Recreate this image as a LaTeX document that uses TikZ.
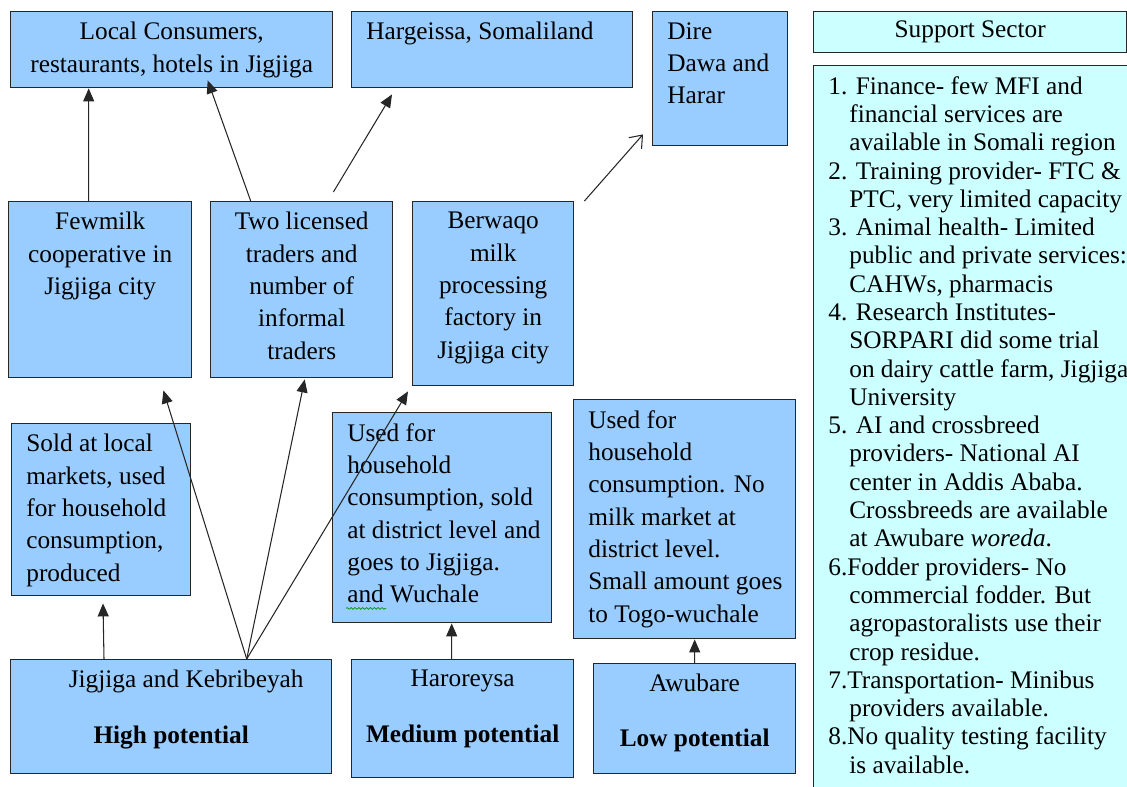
\documentclass[tikz,border=0pt]{standalone}
\usepackage{fontspec}
\setmainfont{Liberation Serif}
\usepackage{xcolor}
\usepackage{tikz}
\usetikzlibrary{positioning,arrows.meta,decorations.pathmorphing}
\definecolor{ink}{HTML}{262626}
\definecolor{skyfill}{HTML}{99CCFF}
\definecolor{aquafill}{HTML}{CCFFFF}
\newcommand{\txtsz}{\fontsize{14.4}{18.4}\selectfont}
\newcommand{\listsz}{\fontsize{14.4}{16.1}\selectfont}
\newcommand{\hang}{\hspace*{0.42cm}}

\begin{document}
\begin{tikzpicture}[
  box/.style={draw=ink, line width=0.8pt, fill=skyfill, anchor=north west, inner sep=0pt},
  sbox/.style={box, fill=aquafill},
  dims/.style 2 args={minimum width=#1cm, minimum height=#2cm},
  ctxt/.style={anchor=north, align=center, inner sep=0pt, yshift=-0.22cm, font=\txtsz},
  ltxt/.style={anchor=north west, align=left, inner sep=0pt, xshift=0.3cm, yshift=-0.22cm, font=\txtsz},
  arr/.style={-{Triangle[length=2.6mm, width=2.2mm]}, line width=0.6pt, ink},
  oarr/.style={-{Straight Barb[length=2.2mm, width=3.4mm]}, line width=0.6pt, ink},
  spell/.style={green!60!black, line width=0.4pt, decorate, decoration={snake, amplitude=0.5pt, segment length=2.2pt}}]
\clip (0,0) rectangle (22.54,-15.72);
% destinations
\node[box, dims={6.44}{1.52}, label={[ctxt]north:{Local Consumers,\\restaurants, hotels in Jigjiga}}] (cons) at (0.20,-0.22) {};
\node[box, dims={5.62}{1.52}, label={[ltxt]north west:{Hargeissa, Somaliland}}] (harg) at (7.02,-0.22) {};
\node[box, dims={2.70}{2.68}, label={[ltxt]north west:{Dire\\Dawa and\\Harar}}] (dire) at (13.04,-0.22) {};
% traders and processors
\node[box, dims={3.66}{3.52}, label={[ctxt]north:{Fewmilk\\cooperative in\\Jigjiga city}}] (fewmilk) at (0.16,-4.02) {};
\node[box, dims={3.64}{3.52}, label={[ctxt]north:{Two licensed\\traders and\\number of\\informal\\traders}}] (two) at (4.20,-4.02) {};
\node[box, dims={3.22}{3.68}, label={[ctxt]north:{Berwaqo\\milk\\processing\\factory in\\Jigjiga city}}] (berwaqo) at (8.24,-4.02) {};
% use of milk
\node[box, dims={3.58}{3.44}, label={[ltxt]north west:{Sold at local\\markets, used\\for household\\consumption,\\produced}}] (sold) at (0.22,-8.46) {};
\node[box, dims={4.38}{4.20}, label={[ltxt]north west:{Used for\\household\\consumption, sold\\at district level and\\goes to Jigjiga.\\and Wuchale}}] (used1) at (6.64,-8.24) {};
\node[box, dims={4.44}{4.78}, label={[ltxt]north west:{Used for\\household\\consumption. No\\milk market at\\district level.\\Small amount goes\\to Togo-wuchale}}] (used2) at (11.46,-7.98) {};
% producing districts
\node[box, dims={6.42}{2.28}, label={[ctxt]north:{\hspace*{0.6cm}Jigjiga and Kebribeyah\\[0.47cm]\textbf{High potential}}}] (high) at (0.20,-13.18) {};
\node[box, dims={4.44}{2.36}, label={[ctxt]north:{Haroreysa\\[0.47cm]\textbf{Medium potential}}}] (medium) at (7.02,-13.18) {};
\node[box, dims={4.04}{2.20}, label={[ctxt]north:{Awubare\\[0.45cm]\textbf{Low potential}}}] (low) at (11.86,-13.26) {};
% support sector
\node[sbox, dims={6.26}{0.82}, font=\txtsz] (sup) at (16.26,-0.22) {Support Sector};
\node[sbox, dims={6.80}{15.00}, label={[ltxt, font=\listsz]north west:{1. Finance- few MFI and\\\hang financial services are\\\hang available in Somali region\\2. Training provider- FTC \&\\\hang PTC, very limited capacity\\3. Animal health- Limited\\\hang public and private services:\\\hang CAHWs, pharmacis\\4. Research Institutes-\\\hang SORPARI did some trial\\\hang on dairy cattle farm, Jigjiga\\\hang University\\5. AI and crossbreed\\\hang providers- National AI\\\hang center in Addis Ababa.\\\hang Crossbreeds are available\\\hang at Awubare \textit{woreda}.\\6.Fodder providers- No\\\hang commercial fodder. But\\\hang agropastoralists use their\\\hang crop residue.\\7.Transportation- Minibus\\\hang providers available.\\8.No quality testing facility\\\hang is available.}}] (suplist) at (16.26,-1.30) {};
\draw[spell] ([shift={(0.28cm,0.30cm)}]used1.south west) -- ++(0.80,0);
\draw[arr] ([xshift=-0.23cm]fewmilk.north) -- ([xshift=-1.66cm]cons.south);
\draw[arr] ([xshift=-1.02cm]two.north) -- ([shift={(0.72cm,0.16cm)}]cons.south);
\draw[arr] ([shift={(-1.2cm,0.18cm)}]two.north east) -- ([shift={(0.82cm,-0.12cm)}]harg.south west);
\draw[oarr] ([xshift=0.2cm]berwaqo.north east) -- ([shift={(-0.18cm,0.24cm)}]dire.south west);
\draw[arr] ([xshift=1.88cm]high.north west) -- ([shift={(1.84cm,-0.14cm)}]sold.south west);
\draw[arr] ([xshift=1.51cm]high.north) -- ([shift={(-0.58cm,-0.24cm)}]fewmilk.south east);
\draw[arr] ([xshift=1.51cm]high.north) -- ([shift={(0.06cm,-0.02cm)}]two.south);
\draw[arr] ([xshift=1.51cm]high.north) -- ([shift={(-0.08cm,-0.10cm)}]berwaqo.south west);
\draw[arr] ([xshift=-0.22cm]medium.north) -- ([xshift=0.19cm]used1.south);
\draw[arr] (low.north) -- ([xshift=0.20cm]used2.south);
\end{tikzpicture}
\end{document}
